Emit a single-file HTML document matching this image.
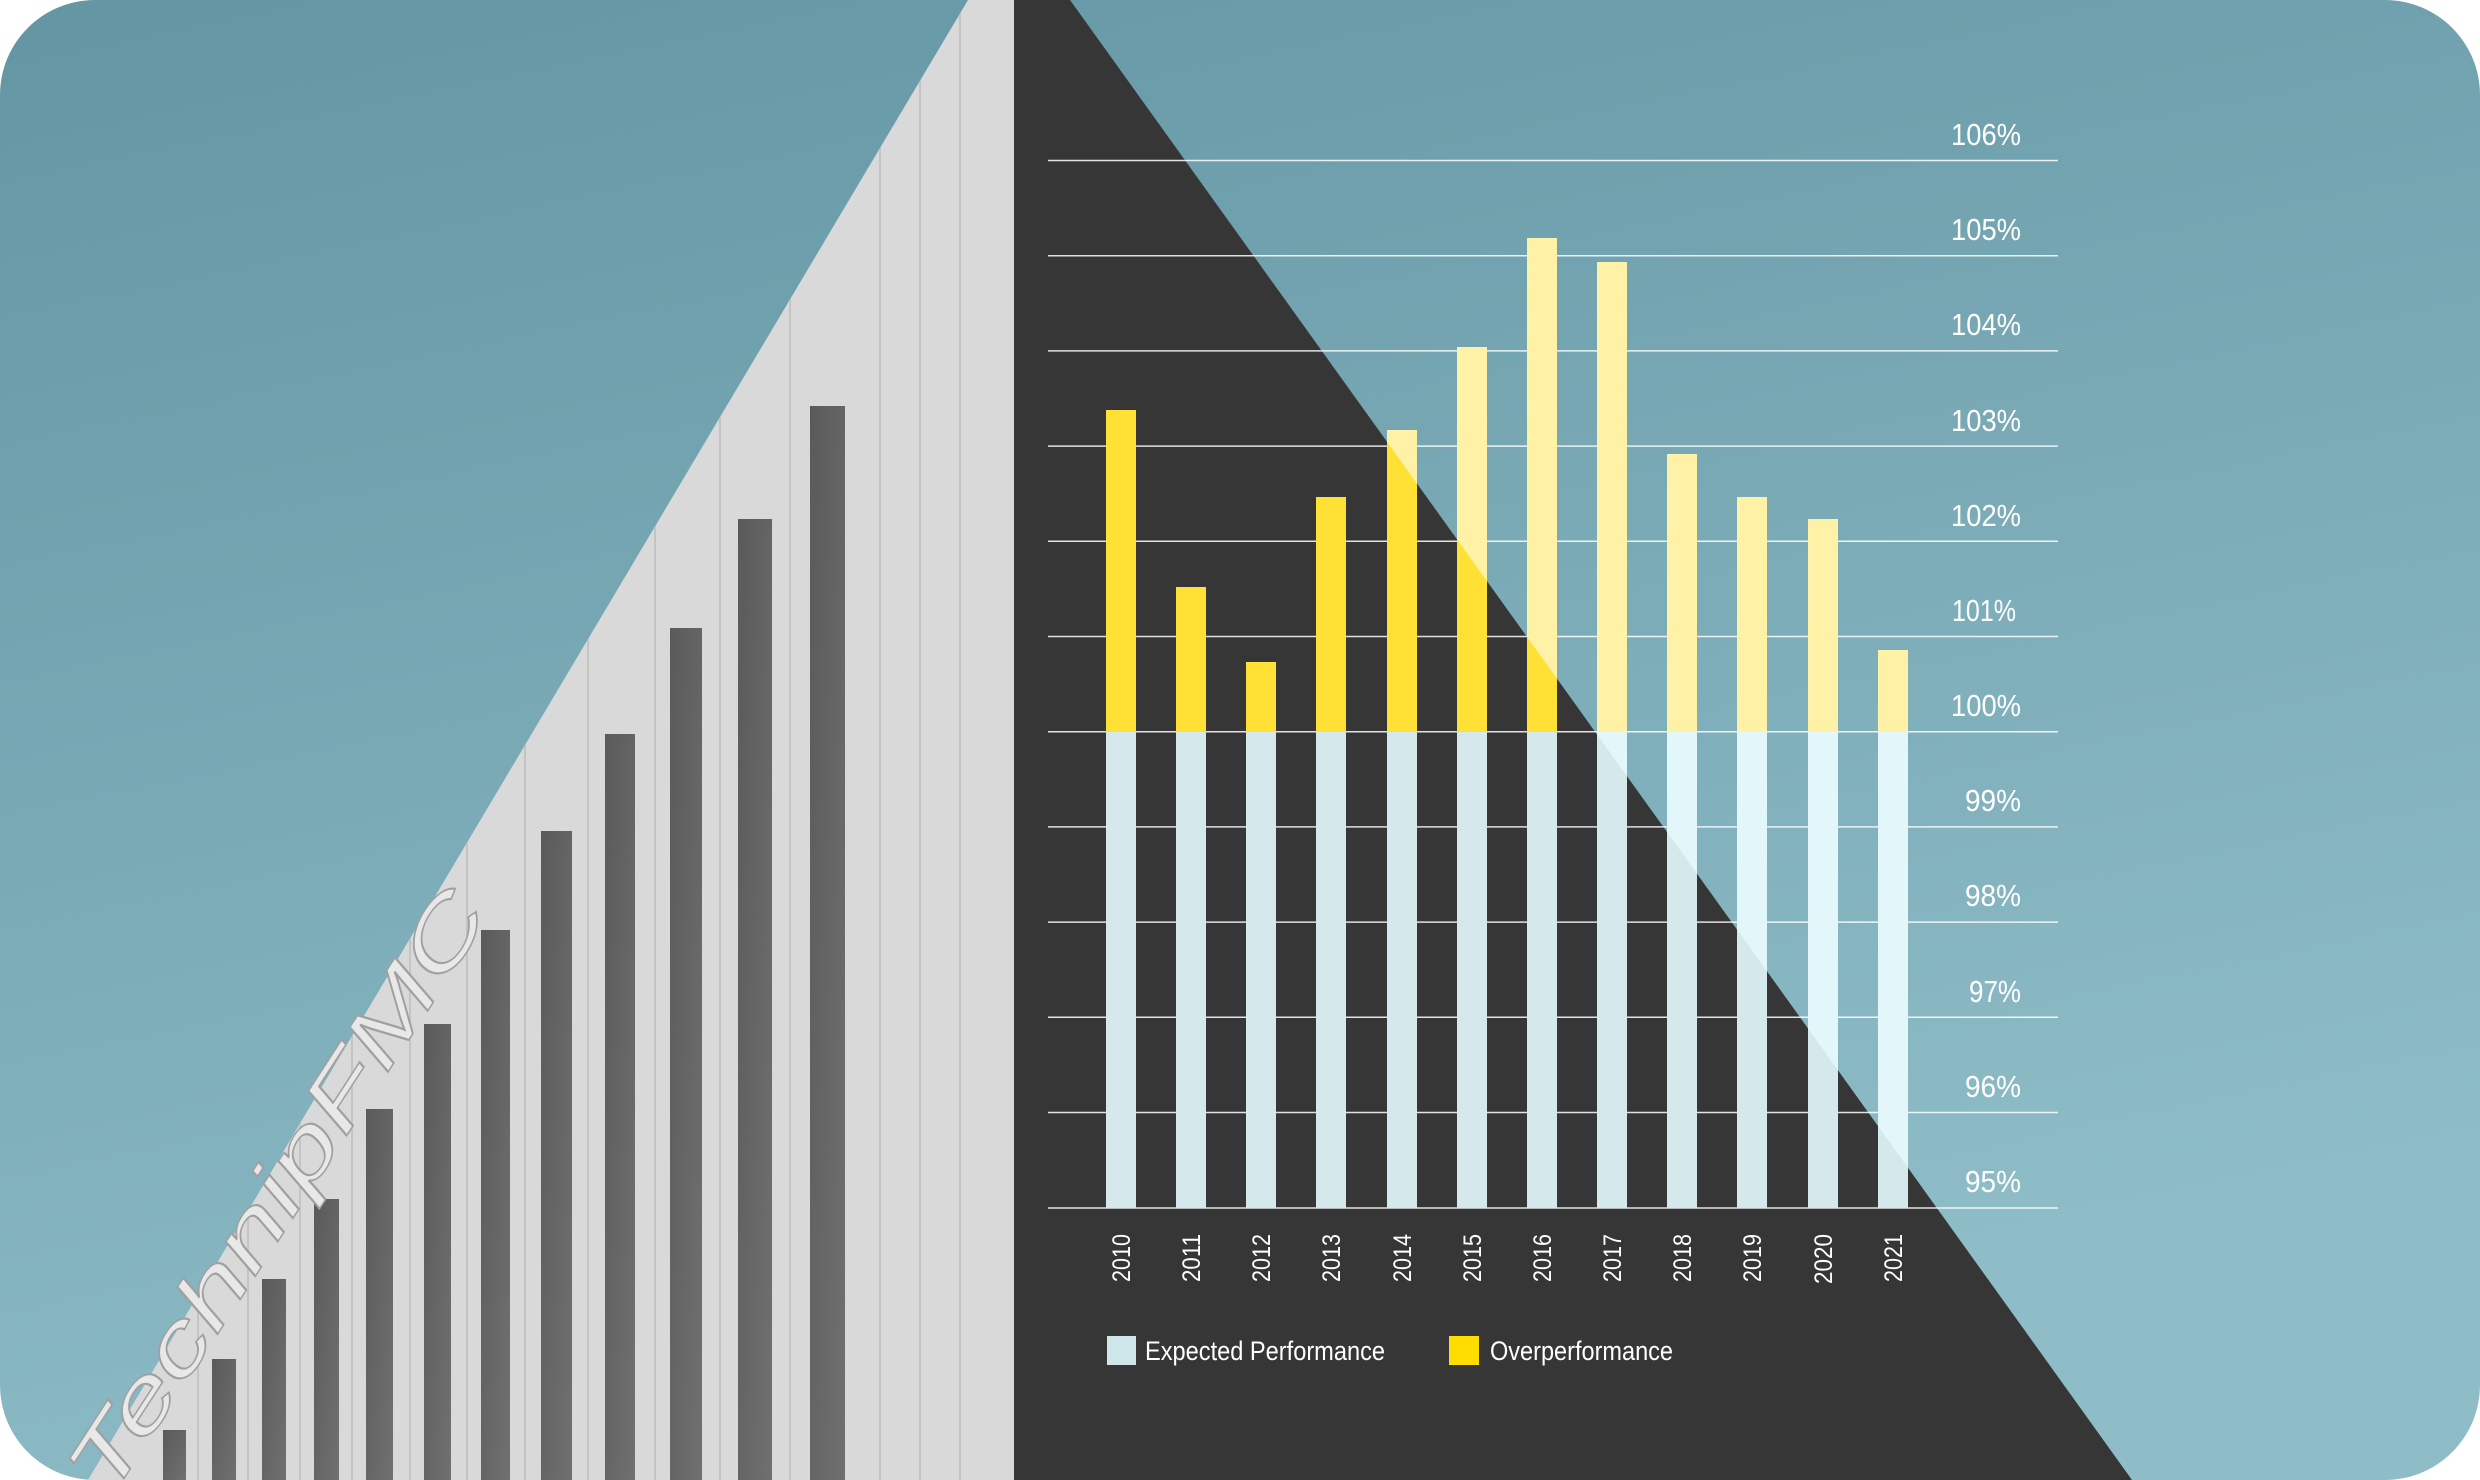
<!DOCTYPE html>
<html><head><meta charset="utf-8"><style>
html,body{margin:0;padding:0;background:#fff;}
svg{display:block;}
</style></head><body>
<svg width="2480" height="1480" viewBox="0 0 2480 1480" xmlns="http://www.w3.org/2000/svg">
<defs>
<linearGradient id="sky" x1="0" y1="0" x2="0.35" y2="1">
<stop offset="0" stop-color="#6395a3"/>
<stop offset="1" stop-color="#8ebdc7"/>
</linearGradient>
<clipPath id="card"><rect x="0" y="0" width="2480" height="1480" rx="95" ry="95"/></clipPath>
<clipPath id="darkc"><polygon points="1014,0 1070,0 2132,1480 1014,1480"/></clipPath>
<clipPath id="grayc"><polygon points="968,0 1014,0 1014,1480 88,1480"/></clipPath>
<linearGradient id="win" x1="0" y1="0" x2="1" y2="1">
<stop offset="0" stop-color="#5a5a5a"/><stop offset="1" stop-color="#707070"/>
</linearGradient>
</defs>
<g clip-path="url(#card)">
<rect width="2480" height="1480" fill="url(#sky)"/>
<polygon points="968,0 1014,0 1014,1480 88,1480" fill="#d9d9d9"/>
<g clip-path="url(#grayc)" stroke="#c4c4c4" stroke-width="2">
<line x1="960" y1="0" x2="960" y2="1480"/><line x1="920" y1="0" x2="920" y2="1480"/>
<line x1="880" y1="0" x2="880" y2="1480"/><line x1="790" y1="0" x2="790" y2="1480"/>
<line x1="720" y1="0" x2="720" y2="1480"/><line x1="655" y1="0" x2="655" y2="1480"/>
<line x1="588" y1="0" x2="588" y2="1480"/><line x1="525" y1="0" x2="525" y2="1480"/>
<line x1="467" y1="0" x2="467" y2="1480"/><line x1="410" y1="0" x2="410" y2="1480"/>
<line x1="352" y1="0" x2="352" y2="1480"/><line x1="300" y1="0" x2="300" y2="1480"/>
<line x1="248" y1="0" x2="248" y2="1480"/><line x1="198" y1="0" x2="198" y2="1480"/>
</g>
<g fill="url(#win)">
<rect x="810" y="406" width="35" height="1074"/>
<rect x="738" y="519" width="34" height="961"/>
<rect x="670" y="628" width="32" height="852"/>
<rect x="605" y="734" width="30" height="746"/>
<rect x="541" y="831" width="31" height="649"/>
<rect x="481" y="930" width="29" height="550"/>
<rect x="424" y="1024" width="27" height="456"/>
<rect x="366" y="1109" width="27" height="371"/>
<rect x="314" y="1199" width="25" height="281"/>
<rect x="262" y="1279" width="24" height="201"/>
<rect x="212" y="1359" width="24" height="121"/>
<rect x="163" y="1430" width="23" height="50"/>
</g>
<text x="0" y="0" transform="translate(110,1500) rotate(-57)" font-family="Liberation Sans, sans-serif" font-style="italic" font-size="82" fill="#e8e8e8" stroke="#a0a0a0" stroke-width="1.5" textLength="700" lengthAdjust="spacingAndGlyphs">TechnipFMC</text>
<polygon points="1014,0 1070,0 2132,1480 1014,1480" fill="#363636"/>

<g stroke="#ffffff" stroke-opacity="0.85" stroke-width="1.5">
<line x1="1048" x2="2058" y1="160.5" y2="160.5"/>
<line x1="1048" x2="2058" y1="255.7" y2="255.7"/>
<line x1="1048" x2="2058" y1="350.9" y2="350.9"/>
<line x1="1048" x2="2058" y1="446.1" y2="446.1"/>
<line x1="1048" x2="2058" y1="541.3" y2="541.3"/>
<line x1="1048" x2="2058" y1="636.5" y2="636.5"/>
<line x1="1048" x2="2058" y1="731.7" y2="731.7"/>
<line x1="1048" x2="2058" y1="826.9" y2="826.9"/>
<line x1="1048" x2="2058" y1="922.1" y2="922.1"/>
<line x1="1048" x2="2058" y1="1017.3" y2="1017.3"/>
<line x1="1048" x2="2058" y1="1112.5" y2="1112.5"/>
<line x1="1048" x2="2058" y1="1208" y2="1208"/>
</g>

<g>
<g fill="#e3f6fa">
<rect x="1106" y="732" width="30" height="476"/><rect x="1176" y="732" width="30" height="476"/>
<rect x="1246" y="732" width="30" height="476"/><rect x="1316" y="732" width="30" height="476"/>
<rect x="1387" y="732" width="30" height="476"/><rect x="1457" y="732" width="30" height="476"/>
<rect x="1527" y="732" width="30" height="476"/><rect x="1597" y="732" width="30" height="476"/>
<rect x="1667" y="732" width="30" height="476"/><rect x="1737" y="732" width="30" height="476"/>
<rect x="1808" y="732" width="30" height="476"/><rect x="1878" y="732" width="30" height="476"/>
</g>
<g fill="#fff2a6">
<rect x="1106" y="410" width="30" height="322"/><rect x="1176" y="587" width="30" height="145"/>
<rect x="1246" y="662" width="30" height="70"/><rect x="1316" y="497" width="30" height="235"/>
<rect x="1387" y="430" width="30" height="302"/><rect x="1457" y="347" width="30" height="385"/>
<rect x="1527" y="238" width="30" height="494"/><rect x="1597" y="262" width="30" height="470"/>
<rect x="1667" y="454" width="30" height="278"/><rect x="1737" y="497" width="30" height="235"/>
<rect x="1808" y="519" width="30" height="213"/><rect x="1878" y="650" width="30" height="82"/>
</g>
</g>
<g clip-path="url(#darkc)">
<g fill="#d5e9ed">
<rect x="1106" y="732" width="30" height="476"/><rect x="1176" y="732" width="30" height="476"/>
<rect x="1246" y="732" width="30" height="476"/><rect x="1316" y="732" width="30" height="476"/>
<rect x="1387" y="732" width="30" height="476"/><rect x="1457" y="732" width="30" height="476"/>
<rect x="1527" y="732" width="30" height="476"/><rect x="1597" y="732" width="30" height="476"/>
<rect x="1667" y="732" width="30" height="476"/><rect x="1737" y="732" width="30" height="476"/>
<rect x="1808" y="732" width="30" height="476"/><rect x="1878" y="732" width="30" height="476"/>
</g>
<g fill="#ffe135">
<rect x="1106" y="410" width="30" height="322"/><rect x="1176" y="587" width="30" height="145"/>
<rect x="1246" y="662" width="30" height="70"/><rect x="1316" y="497" width="30" height="235"/>
<rect x="1387" y="430" width="30" height="302"/><rect x="1457" y="347" width="30" height="385"/>
<rect x="1527" y="238" width="30" height="494"/><rect x="1597" y="262" width="30" height="470"/>
<rect x="1667" y="454" width="30" height="278"/><rect x="1737" y="497" width="30" height="235"/>
<rect x="1808" y="519" width="30" height="213"/><rect x="1878" y="650" width="30" height="82"/>
</g>
</g>

<g font-family="Liberation Sans, sans-serif" font-size="31" fill="#ffffff" text-anchor="end">
<text x="2021" y="145" textLength="70" lengthAdjust="spacingAndGlyphs">106%</text>
<text x="2021" y="240" textLength="70" lengthAdjust="spacingAndGlyphs">105%</text>
<text x="2021" y="335" textLength="70" lengthAdjust="spacingAndGlyphs">104%</text>
<text x="2021" y="431" textLength="70" lengthAdjust="spacingAndGlyphs">103%</text>
<text x="2021" y="526" textLength="70" lengthAdjust="spacingAndGlyphs">102%</text>
<text x="2016" y="621" textLength="64" lengthAdjust="spacingAndGlyphs">101%</text>
<text x="2021" y="716" textLength="70" lengthAdjust="spacingAndGlyphs">100%</text>
<text x="2021" y="811" textLength="56" lengthAdjust="spacingAndGlyphs">99%</text>
<text x="2021" y="906" textLength="56" lengthAdjust="spacingAndGlyphs">98%</text>
<text x="2021" y="1002" textLength="52" lengthAdjust="spacingAndGlyphs">97%</text>
<text x="2021" y="1097" textLength="56" lengthAdjust="spacingAndGlyphs">96%</text>
<text x="2021" y="1192" textLength="56" lengthAdjust="spacingAndGlyphs">95%</text>
</g>
<g font-family="Liberation Sans, sans-serif" font-size="25" fill="#ffffff" text-anchor="start">
<text transform="translate(1130,1282) rotate(-90)" textLength="48" lengthAdjust="spacingAndGlyphs">2010</text>
<text transform="translate(1200,1282) rotate(-90)" textLength="48" lengthAdjust="spacingAndGlyphs">2011</text>
<text transform="translate(1270,1282) rotate(-90)" textLength="48" lengthAdjust="spacingAndGlyphs">2012</text>
<text transform="translate(1340,1282) rotate(-90)" textLength="48" lengthAdjust="spacingAndGlyphs">2013</text>
<text transform="translate(1411,1282) rotate(-90)" textLength="48" lengthAdjust="spacingAndGlyphs">2014</text>
<text transform="translate(1481,1282) rotate(-90)" textLength="48" lengthAdjust="spacingAndGlyphs">2015</text>
<text transform="translate(1551,1282) rotate(-90)" textLength="48" lengthAdjust="spacingAndGlyphs">2016</text>
<text transform="translate(1621,1282) rotate(-90)" textLength="48" lengthAdjust="spacingAndGlyphs">2017</text>
<text transform="translate(1691,1282) rotate(-90)" textLength="48" lengthAdjust="spacingAndGlyphs">2018</text>
<text transform="translate(1761,1282) rotate(-90)" textLength="48" lengthAdjust="spacingAndGlyphs">2019</text>
<text transform="translate(1832,1284) rotate(-90)" textLength="50" lengthAdjust="spacingAndGlyphs">2020</text>
<text transform="translate(1902,1282) rotate(-90)" textLength="48" lengthAdjust="spacingAndGlyphs">2021</text>
</g>
<rect x="1107" y="1336" width="29" height="29" fill="#cfe6eb"/>
<text x="1145" y="1360" font-family="Liberation Sans, sans-serif" font-size="27" fill="#ffffff" textLength="240" lengthAdjust="spacingAndGlyphs">Expected Performance</text>
<rect x="1449" y="1336" width="30" height="29" fill="#ffdd00"/>
<text x="1490" y="1360" font-family="Liberation Sans, sans-serif" font-size="27" fill="#ffffff" textLength="183" lengthAdjust="spacingAndGlyphs">Overperformance</text>
</g>
</svg>
</body></html>
